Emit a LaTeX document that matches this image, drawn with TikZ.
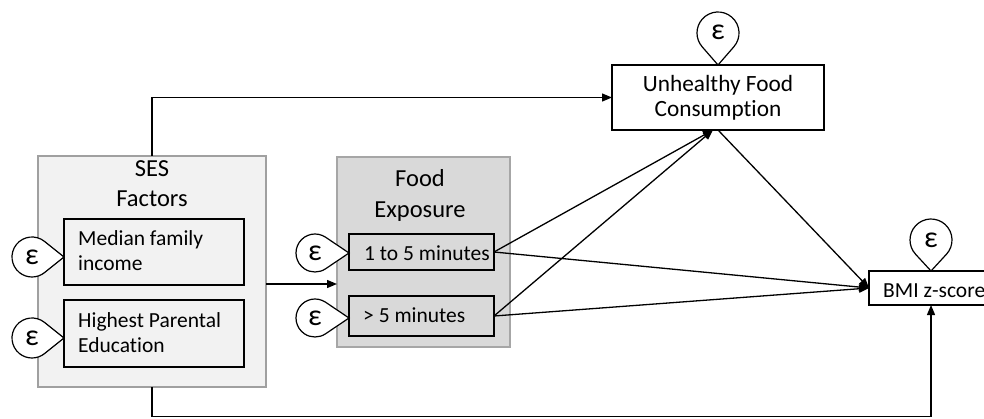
\documentclass[tikz,border=0pt]{standalone}
\usepackage{fontspec}
\setmainfont{Carlito}[Ligatures=NoCommon]
\usetikzlibrary{arrows.meta,calc}
\definecolor{sesfill}{HTML}{F2F2F2}
\definecolor{sesdraw}{HTML}{A0A0A0}
\definecolor{foodfill}{HTML}{D9D9D9}
\definecolor{fooddraw}{HTML}{A6A6A6}
\tikzset{
  group/.style={line width=1.2pt, inner sep=0pt, outer sep=0pt},
  ibox/.style={draw=black, line width=1.5pt, inner sep=0pt, outer sep=0pt},
  txt/.style={font=\fontsize{21.5}{25}\selectfont, inner sep=0pt, anchor=base west},
  ctxt/.style={font=\fontsize{23.3}{25}\selectfont, inner sep=0pt, anchor=base},
  ttl/.style={font=\fontsize{24.5}{30}\selectfont, inner sep=0pt, anchor=base},
  eps/.style={font=\fontsize{30}{30}\selectfont, inner sep=0pt, anchor=base},
  arr/.style={line width=1.3pt, -{Triangle[length=10pt,width=8pt]}},
  teardrop/.style={draw=black, fill=white, line width=1.2pt}
}
\newcommand\tear[5]{%
  \pgfmathsetmacro\tth{acos(#5/#4)}%
  \filldraw[teardrop] ($(#2)+(#3:#4)$) -- ($(#2)+(#3+\tth:#5)$)
     arc[start angle=#3+\tth, end angle=#3-\tth+360, radius=#5] -- cycle;
  \node[eps] (#1) at ($(#2)+(0,-7)$) {ε};}
\begin{document}
\begin{tikzpicture}[x=1pt,y=1pt]
\clip (0,0) rectangle (984,418);
\fill[white] (0,0) rectangle (984,418);

% group boxes
\node[group, draw=sesdraw, fill=sesfill, minimum width=228, minimum height=231] (ses) at (152,146.5) {};
\node[group, draw=fooddraw, fill=foodfill, minimum width=173, minimum height=190] (food) at (423.5,166) {};

% titles
\node[ttl] (sesA) at (152,241.3) {SES};
\node[ttl] (sesB) at (152,211.3) {Factors};
\node[ttl] (foodA) at (420,231.3) {Food};
\node[ttl] (foodB) at (420,200.7) {Exposure};

% inner boxes
\node[ibox, minimum width=180, minimum height=66] (med) at (154,166) {};
\node[ibox, minimum width=180, minimum height=67] (edu) at (154,84.5) {};
\node[ibox, minimum width=145, minimum height=36] (m15) at (421.5,166) {};
\node[ibox, minimum width=145, minimum height=40] (m5) at (421.5,102) {};
\node[ibox, minimum width=212, minimum height=65] (unh) at (718,320.5) {};
\node[ibox, minimum width=124, minimum height=34] (bmi) at (931,130) {};

% texts
\node[txt] (medA) at (78,172) {Median family};
\node[txt] (medB) at (78,148) {income};
\node[txt] (eduA) at (78,90.3) {Highest Parental};
\node[txt] (eduB) at (78,65.3) {Education};
\node[txt] (m15t) at (364,157.3) {1 to 5 minutes};
\node[txt] (m5t) at (363,95.3) {> 5 minutes};
\node[ctxt] (unhA) at (718,326.3) {Unhealthy Food};
\node[ctxt] (unhB) at (718,301.3) {Consumption};
\node[txt] (bmit) at (883,120.3) {BMI z-score};

% connectors
\coordinate (uin) at ($(unh.south)+(-5,0)$);
\coordinate (bl) at (152,1.5);
\coordinate (br) at (931,1.5);
\draw[arr] (ses.north) |- (unh.west);
\draw[arr] (ses.east |- 0,134) -- (food.west |- 0,134);
\draw[arr] (m15.east) -- (uin);
\draw[arr] (m5.east) -- (uin);
\draw[arr] (m15.east) -- (bmi.west);
\draw[arr] (m5.east) -- (bmi.west);
\draw[arr] (unh.south) -- (bmi.west);
\draw[arr] (ses.south) -- (bl) -- (br) -- (bmi.south);

% error bubbles
\tear{e1}{32,161}{0}{32}{20}
\tear{e2}{32,80}{0}{32}{20}
\tear{e3}{315,165}{0}{34}{19}
\tear{e4}{315,100}{0}{34}{19}
\tear{e5}{718,385}{-90}{32}{21}
\tear{e6}{931,178}{-90}{31}{21}
\end{tikzpicture}
\end{document}
